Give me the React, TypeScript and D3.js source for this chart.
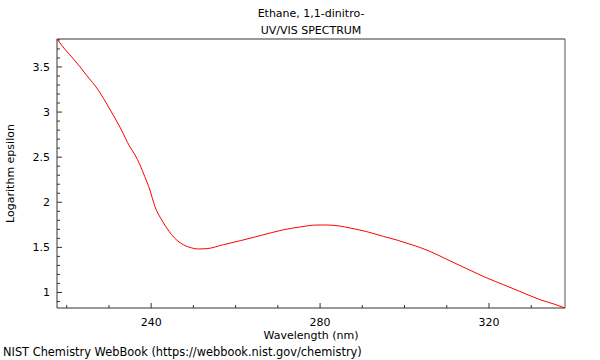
import React from "react";
import * as d3 from "d3";

const wavelengths = [217.7, 219.5, 221.2, 223.0, 224.7, 227.5, 229.9, 232.6, 235.0, 236.2, 238.5, 239.7, 240.9, 242.5, 244.0, 245.6, 247.6, 249.5, 251.2, 253.2, 257.1, 261.1, 265.8, 271.3, 275.5, 279.2, 281.6, 284.5, 287.1, 291.0, 295.0, 298.5, 301.3, 303.8, 306.0, 310.8, 315.0, 319.5, 323.5, 327.3, 332.1, 335.5, 338.0];
const logEpsilon = [3.81, 3.70, 3.611, 3.51, 3.408, 3.242, 3.056, 2.834, 2.612, 2.524, 2.284, 2.136, 1.951, 1.804, 1.693, 1.601, 1.530, 1.495, 1.482, 1.486, 1.530, 1.574, 1.630, 1.695, 1.728, 1.748, 1.748, 1.738, 1.715, 1.675, 1.622, 1.577, 1.535, 1.497, 1.456, 1.350, 1.258, 1.161, 1.085, 1.012, 0.920, 0.870, 0.828];
const xTicks = [240, 280, 320];
const yTicks = [1, 1.5, 2, 2.5, 3, 3.5];
const titleLines = ["Ethane, 1,1-dinitro-", "UV/VIS SPECTRUM"];
const xLabel = "Wavelength (nm)";
const yLabel = "Logarithm epsilon";
const footer = "NIST Chemistry WebBook (https://webbook.nist.gov/chemistry)";

export default function App() {
  const W = 600, H = 360;
  const left = 57, right = 565, top = 39, bottom = 308;
  const x = d3.scaleLinear().domain([217.7, 338.0]).range([left, right]);
  const y = d3.scaleLinear().domain([0.828, 3.81]).range([bottom, top]);
  const data = wavelengths.map((w, i) => [w, logEpsilon[i]] as [number, number]);
  const line = d3.line<[number, number]>().x(d => x(d[0])).y(d => y(d[1])).curve(d3.curveMonotoneX);
  const xMinor = d3.range(220, 338, 10).filter(v => !xTicks.includes(v));
  const yMinor = d3.range(9, 39).map(v => v / 10).filter(v => !yTicks.some(t => Math.abs(t - v) < 1e-6) && v >= 0.83 && v <= 3.81);
  const font = "DejaVu Sans, sans-serif";
  const axisColor = "#333";
  const fs = 11;
  return (
    <svg width={W} height={H} style={{ position: "absolute", left: 0, top: 0, background: "#fff" }} fontFamily={font}>
      <rect x={0} y={0} width={W} height={H} fill="#fff" />
      {titleLines.map((t, i) => (
        <text key={t} x={(left + right) / 2} y={17 + i * 17} textAnchor="middle" fontSize={fs} fill="#000">{t}</text>
      ))}
      <line x1={left} x2={right} y1={top} y2={top} stroke="#999" strokeWidth={2} />
      <line x1={right} x2={right} y1={top} y2={bottom} stroke="#555" strokeWidth={1} />
      <line x1={left} x2={left} y1={top} y2={bottom} stroke={axisColor} strokeWidth={1} />
      <line x1={left} x2={right} y1={bottom} y2={bottom} stroke={axisColor} strokeWidth={1} />
      {xTicks.map(t => (
        <g key={t}>
          <line x1={x(t)} x2={x(t)} y1={bottom} y2={bottom - 5} stroke={axisColor} />
          <text x={x(t)} y={bottom + 18} textAnchor="middle" fontSize={fs} fill="#000">{t}</text>
        </g>
      ))}
      {xMinor.map(t => (
        <line key={t} x1={x(t)} x2={x(t)} y1={bottom} y2={bottom - 3} stroke={axisColor} />
      ))}
      {yTicks.map(t => (
        <g key={t}>
          <line x1={left} x2={left + 5} y1={y(t)} y2={y(t)} stroke={axisColor} />
          <text x={left - 7} y={y(t) + 4} textAnchor="end" fontSize={fs} fill="#000">{t}</text>
        </g>
      ))}
      {yMinor.map(t => (
        <line key={t} x1={left} x2={left + 3} y1={y(t)} y2={y(t)} stroke={axisColor} />
      ))}
      <text x={(left + right) / 2} y={bottom + 31} textAnchor="middle" fontSize={fs} fill="#000">{xLabel}</text>
      <text transform={`translate(14,${(top + bottom) / 2}) rotate(-90)`} textAnchor="middle" fontSize={fs} fill="#000">{yLabel}</text>
      <text x={3} y={356} fontSize={11.4} fill="#000">{footer}</text>
      <path d={line(data) ?? ""} fill="none" stroke="#ff0000" strokeWidth={1} />
    </svg>
  );
}
